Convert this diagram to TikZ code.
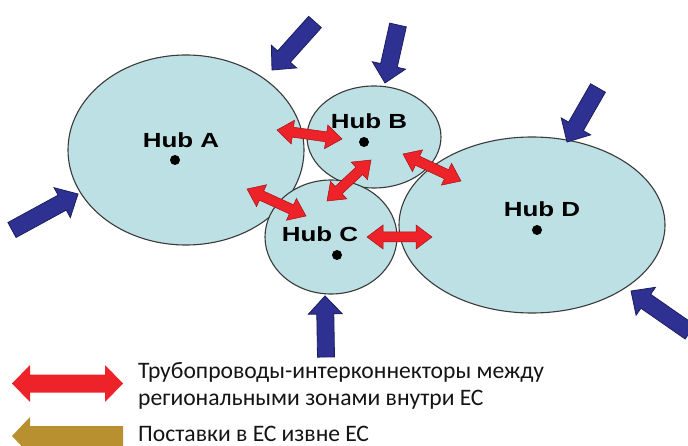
\documentclass[tikz,border=0pt]{standalone}
\usepackage{fontspec}
\setmainfont{Carlito}
\newfontfamily\hubfont{Liberation Sans}
\usetikzlibrary{calc}

\definecolor{zonefill}{HTML}{BDE0E4}
\definecolor{zoneline}{HTML}{3A3A3A}
\definecolor{supplyblue}{HTML}{2E3192}
\definecolor{supplyedge}{HTML}{1C1E5C}
\definecolor{pipered}{HTML}{EE2229}
\definecolor{pipeedge}{HTML}{A01318}
\definecolor{importgold}{HTML}{B8902F}

% single-headed block arrow: style, tail, tip, shaft half width, head half width, head length
\newcommand\blockarrow[6]{%
  \coordinate (bh) at ($(#3)!#6!(#2)$);
  \draw[#1] ($(#2)!#4!90:(#3)$) -- ($(bh)!#4!90:(#3)$) -- ($(bh)!#5!90:(#3)$)
    -- (#3) -- ($(bh)!#5!-90:(#3)$) -- ($(bh)!#4!-90:(#3)$)
    -- ($(#2)!#4!-90:(#3)$) -- cycle;}

% double-headed block arrow: style, end 1, end 2, shaft half width, head half width, head length
\newcommand\twowayarrow[6]{%
  \coordinate (dh1) at ($(#2)!#6!(#3)$);
  \coordinate (dh2) at ($(#3)!#6!(#2)$);
  \draw[#1] (#2) -- ($(dh1)!#5!90:(#3)$) -- ($(dh1)!#4!90:(#3)$)
    -- ($(dh2)!#4!90:(#3)$) -- ($(dh2)!#5!90:(#3)$) -- (#3)
    -- ($(dh2)!#5!-90:(#3)$) -- ($(dh2)!#4!-90:(#3)$)
    -- ($(dh1)!#4!-90:(#3)$) -- ($(dh1)!#5!-90:(#3)$) -- cycle;}

\tikzset{
  zone/.style={fill=zonefill, draw=zoneline, line width=1.1bp},
  hubdot/.style={circle, fill=black, inner sep=0pt, minimum size=10bp},
  hublabel/.style={font=\hubfont\bfseries\fontsize{20.5}{24}\selectfont, inner sep=0pt},
  supply/.style={fill=supplyblue, draw=supplyedge, line width=0.8bp, line join=miter},
  pipe/.style={fill=pipered, draw=pipeedge, line width=0.5bp, line join=miter},
  legendpipe/.style={fill=pipered, draw=none},
  legendimport/.style={fill=importgold, draw=none},
  legendtext/.style={font=\fontsize{23.7}{27}\selectfont, anchor=base west, inner sep=0pt, text=black!92}
}

\begin{document}
\begin{tikzpicture}[x=1bp, y=-1bp]
  \useasboundingbox (0,0) rectangle (688,446);
  \clip (0,0) rectangle (688,446);

  % regional zones
  \draw[zone] (186,150) ellipse [x radius=118, y radius=95];
  \draw[zone] (374,137) ellipse [x radius=67, y radius=51];
  \draw[zone] (331,237) ellipse [x radius=66, y radius=57];
  \draw[zone] (532,225) ellipse [x radius=133, y radius=88];

  % hubs
  \node[hublabel] (la) at (181,140) {\scalebox{1.27}[1]{Hub A}};
  \node[hublabel] (lb) at (369,121) {\scalebox{1.27}[1]{Hub B}};
  \node[hublabel] (lc) at (320,234) {\scalebox{1.27}[1]{Hub C}};
  \node[hublabel] (ld) at (542,209) {\scalebox{1.27}[1]{Hub D}};
  \node[hubdot] (ha) at (175,160) {};
  \node[hubdot] (hb) at (364,142) {};
  \node[hubdot] (hc) at (337,255) {};
  \node[hubdot] (hd) at (537,230) {};

  % external supplies
  \coordinate (s1t) at (315,22);  \coordinate (s1p) at (272,70);
  \coordinate (s2t) at (398,25);  \coordinate (s2p) at (385,83);
  \coordinate (s3t) at (598,88);  \coordinate (s3p) at (567,142);
  \coordinate (s4t) at (12,230);  \coordinate (s4p) at (78,194);
  \coordinate (s5t) at (326,357); \coordinate (s5p) at (325,296);
  \coordinate (s6t) at (690,332); \coordinate (s6p) at (631,291);
  \blockarrow{supply}{s1t}{s1p}{8.5bp}{17bp}{18bp}
  \blockarrow{supply}{s2t}{s2p}{8.5bp}{17bp}{18bp}
  \blockarrow{supply}{s3t}{s3p}{8.5bp}{17bp}{18bp}
  \blockarrow{supply}{s4t}{s4p}{8.5bp}{17bp}{18bp}
  \blockarrow{supply}{s5t}{s5p}{8.5bp}{17bp}{18bp}
  \blockarrow{supply}{s6t}{s6p}{8.5bp}{17bp}{18bp}

  % interconnector pipelines
  \coordinate (ab1) at (277,130); \coordinate (ab2) at (342,139);
  \coordinate (ac1) at (247,189); \coordinate (ac2) at (306,216);
  \coordinate (bc1) at (371,160); \coordinate (bc2) at (327,201);
  \coordinate (bd1) at (403,154); \coordinate (bd2) at (461,181);
  \coordinate (cd1) at (367,237); \coordinate (cd2) at (432,237);
  \twowayarrow{pipe}{ab1}{ab2}{5bp}{12bp}{16bp}
  \twowayarrow{pipe}{ac1}{ac2}{5bp}{12bp}{16bp}
  \twowayarrow{pipe}{bc1}{bc2}{5bp}{12bp}{16bp}
  \twowayarrow{pipe}{bd1}{bd2}{5bp}{12bp}{16bp}
  \twowayarrow{pipe}{cd1}{cd2}{5bp}{12bp}{16bp}

  % legend
  \coordinate (lp1) at (12,383.5);  \coordinate (lp2) at (123,383.5);
  \coordinate (li1) at (123,436);   \coordinate (li2) at (12,436);
  \twowayarrow{legendpipe}{lp1}{lp2}{9bp}{18.5bp}{18bp}
  \blockarrow{legendimport}{li1}{li2}{10bp}{19bp}{18bp}
  \node[legendtext] (t1) at (138,378) {Трубопроводы-интерконнекторы между};
  \node[legendtext] (t2) at (138,405) {региональными зонами внутри ЕС};
  \node[legendtext] (t3) at (138,441) {Поставки в ЕС извне ЕС};
\end{tikzpicture}
\end{document}
